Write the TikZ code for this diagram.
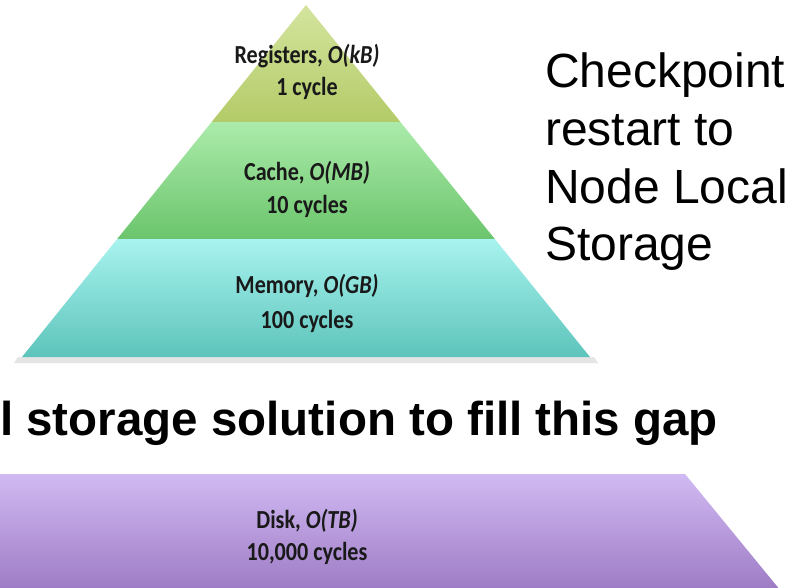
\documentclass[tikz,border=0pt]{standalone}
\usepackage{fontspec}
\setmainfont{Liberation Sans}
\newfontfamily\lab[FakeStretch=0.85]{Carlito}
\definecolor{regTop}{HTML}{D4E49E}
\definecolor{regBot}{HTML}{B3CB68}
\definecolor{cacTop}{HTML}{ABEBAB}
\definecolor{cacBot}{HTML}{6BC56C}
\definecolor{memTop}{HTML}{A8F3EF}
\definecolor{memBot}{HTML}{5DC4BB}
\definecolor{dskTop}{HTML}{D1BAF3}
\definecolor{dskBot}{HTML}{9B78C2}
\begin{document}
\begin{tikzpicture}[x=1pt,y=-1pt,
  lbl/.style={font=\lab\bfseries\fontsize{26}{30}\selectfont, anchor=base, inner sep=0pt, text=black!90},
  big/.style={font=\fontsize{48}{58}\selectfont, anchor=base west, inner sep=0pt},
  bigb/.style={font=\bfseries\fontsize{47.5}{58}\selectfont, anchor=base west, inner sep=0pt}]
\useasboundingbox (0,0) rectangle (804,587);
\clip (0,0) rectangle (804,587);
\fill[white] (0,0) rectangle (804,587);
% soft shadow under the pyramid
\fill[black!10] (18,357) -- (594,357) -- (598,363) -- (14,363) -- cycle;
% pyramid layers
\shade[top color=regTop, bottom color=regBot] (306,5) -- (400.4,122) -- (211.6,122) -- cycle;
\shade[top color=cacTop, bottom color=cacBot] (211.6,122) -- (400.4,122) -- (494.8,239) -- (117.2,239) -- cycle;
\shade[top color=memTop, bottom color=memBot] (117.2,239) -- (494.8,239) -- (590,357) -- (22,357) -- cycle;
% disk band
\shade[top color=dskTop, bottom color=dskBot] (-10,474) -- (685,474) -- (785,596) -- (-10,596) -- cycle;
% pyramid labels
\node[lbl] (reg1) at (307,63) {Registers, \textit{O(kB)}};
\node[lbl] (reg2) at (307,95) {1 cycle};
\node[lbl] (cac1) at (307,180) {Cache, \textit{O(MB)}};
\node[lbl] (cac2) at (307,213) {10 cycles};
\node[lbl] (mem1) at (307,293) {Memory, \textit{O(GB)}};
\node[lbl] (mem2) at (307,328) {100 cycles};
\node[lbl] (dsk1) at (307,528) {Disk, \textit{O(TB)}};
\node[lbl] (dsk2) at (307,560) {10,000 cycles};
% right text
\node[big] (chk1) at (545,87) {Checkpoint};
\node[big] (chk2) at (545,145) {restart to};
\node[big] (chk3) at (545,203) {Node Local};
\node[big] (chk4) at (545,260) {Storage};
% heading
\node[bigb] (head) at (0,435) {l storage solution to fill this gap};
\end{tikzpicture}
\end{document}
